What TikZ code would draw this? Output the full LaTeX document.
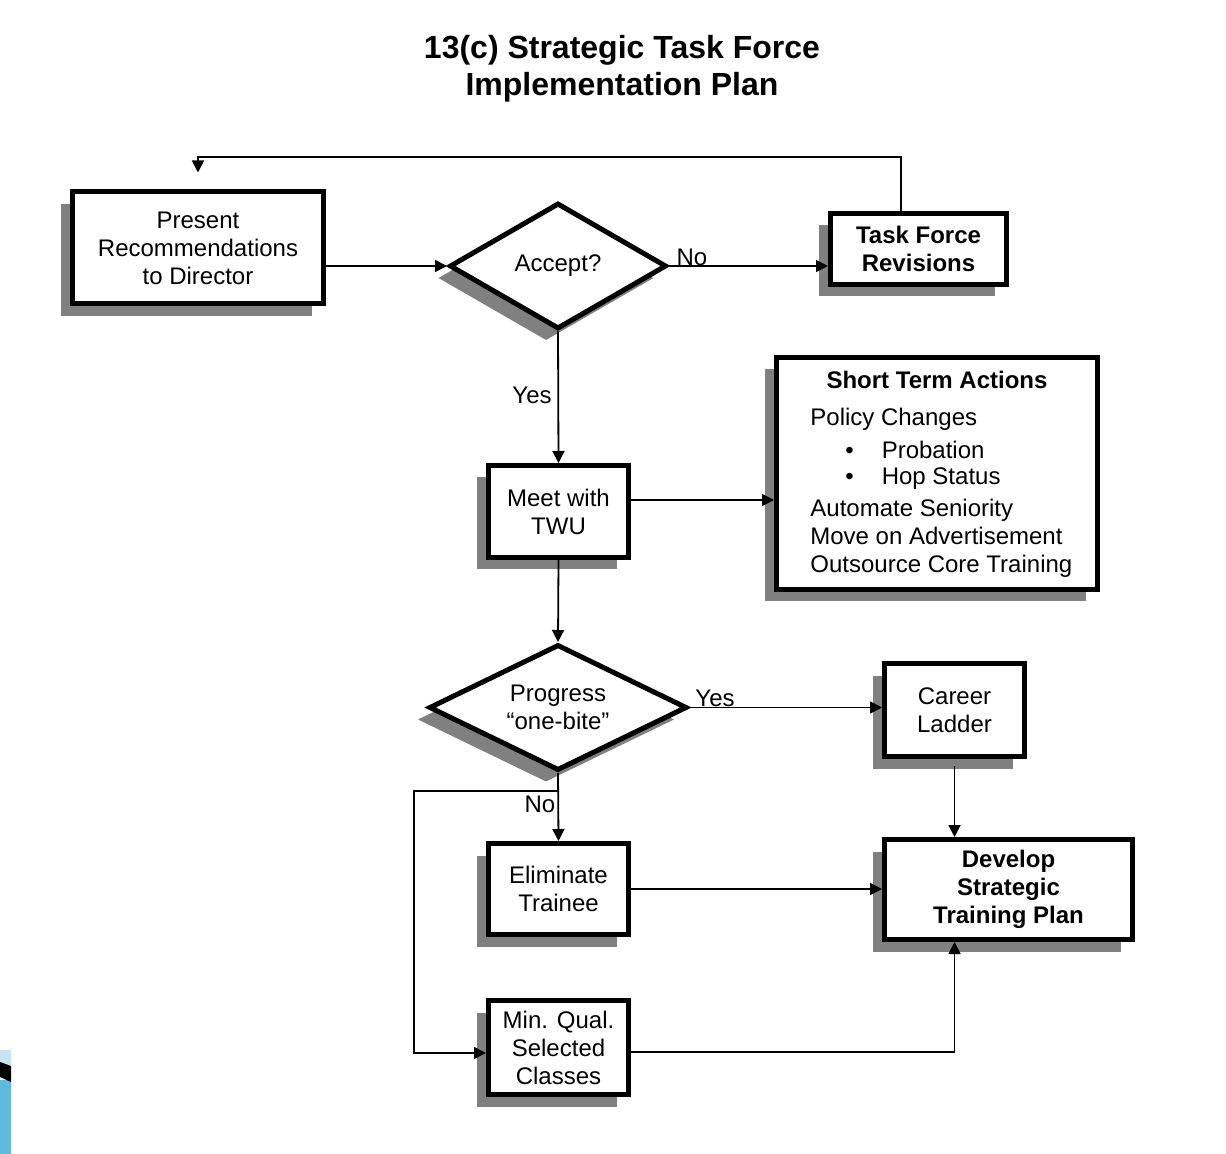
\documentclass[tikz,border=0pt]{standalone}
\usepackage{fontspec}
\setmainfont{Liberation Sans}
\usepackage{xcolor}
\usepackage{tikz}
\usetikzlibrary{arrows.meta,shapes.geometric,shadows}
\definecolor{cornerlight}{RGB}{200,228,240}
\definecolor{cornerblue}{RGB}{95,185,220}

\begin{document}
\begin{tikzpicture}[
  x=0.5pt, y=-0.5pt,
  font=\fontsize{12}{14}\selectfont,
  b/.style={draw, line width=2.5pt, fill=white, align=center, inner sep=0pt,
    drop shadow={shadow xshift=-6pt, shadow yshift=-6pt, fill=black!50, opacity=1}},
  dia/.style={b, diamond, shape aspect=2},
  lbl/.style={inner sep=1pt},
  arr/.style={-{Triangle[length=6pt,width=6pt]}, line width=0.9pt}
]
\useasboundingbox (0,0) rectangle (1226,1154);
% slide corner
\fill[cornerlight] (0,1050) rectangle (11,1068);
\fill[cornerblue] (0,1080) rectangle (11,1154);
\fill[black] (0,1062) -- (11,1066) -- (11,1082) -- (0,1077) -- cycle;

\node[font=\fontsize{16}{18.5}\selectfont\bfseries, align=center] (title) at (622,68.5)
  {13(c) Strategic Task Force\\ Implementation Plan};

\node[b, minimum width=125.5pt, minimum height=56pt] (pres) at (198,248) {Present\\ Recommendations\\ to Director};
\node[dia, minimum width=108.5pt, minimum height=63pt] (acc) at (558,266) {Accept?};
\node[b, minimum width=88pt, minimum height=35.5pt, font=\fontsize{12}{14}\selectfont\bfseries] (tfr) at (918.5,249) {Task Force\\ Revisions};
\node[b, minimum width=160.5pt, minimum height=116pt] (sta) at (937,473.5) {};
\node[font=\fontsize{12}{14}\selectfont\bfseries] (stahead) at (937,380) {Short Term Actions};
\node[align=left, anchor=west, inner sep=0pt] (stalist) at (810,493) {Policy Changes\\[2.5pt]
  \hspace*{17.5pt}\textbullet\hspace{14pt}Probation\\[-1pt]
  \hspace*{17.5pt}\textbullet\hspace{14pt}Hop Status\\[2pt]
  Automate Seniority\\ Move on Advertisement\\ Outsource Core Training};
\node[b, minimum width=70pt, minimum height=46pt] (twu) at (558.5,511.5) {Meet with\\ TWU};
\node[dia, minimum width=129pt, minimum height=63pt] (prg) at (558,707.5) {Progress\\ “one-bite”};
\node[b, minimum width=70pt, minimum height=46.5pt] (car) at (954.5,710) {Career\\ Ladder};
\node[b, minimum width=70pt, minimum height=45.5pt] (eli) at (558.5,889) {Eliminate\\ Trainee};
\node[b, minimum width=124pt, minimum height=50pt, font=\fontsize{12}{14}\selectfont\bfseries] (dev) at (1008.5,889.5) {Develop\\ Strategic\\ Training Plan};
\node[b, minimum width=70pt, minimum height=47pt] (mqs) at (558.5,1047.5) {Min. Qual.\\ Selected\\ Classes};

\node[lbl] (accno) at (692,257) {No};
\node[lbl] (accyes) at (532,395) {Yes};
\node[lbl] (prgyes) at (715,698) {Yes};
\node[lbl] (prgno) at (540,804) {No};

\draw[arr] (pres.east |- acc.west) -- (acc.west);
\draw[arr] (acc.east) -- (acc.east -| tfr.west);
\draw[arr] ([xshift=-8.75pt]tfr.north) -- ++(0,-54) -| ([yshift=8.5pt]pres.north);
\draw[arr] (acc.south) -- (twu.north);
\draw[arr] ([yshift=5.75pt]twu.east) -- ([yshift=5.75pt]twu.east -| sta.west);
\draw[arr] (twu.south) -- (prg.north);
\draw[arr] (prg.east) -- (prg.east -| car.west);
\draw[arr] (prg.south) -- (eli.north);
\draw[arr] ([yshift=-9pt]prg.south) -- ++(-144,0) |- ([yshift=-2.75pt]mqs.west);
\draw[arr] ([yshift=-3.5pt]car.south) -- (car.south |- dev.north);
\draw[arr] (eli.east) -- (eli.east -| dev.west);
\draw[arr] ([yshift=-2.25pt]mqs.east) -| (dev.south -| car.south);
\end{tikzpicture}
\end{document}
